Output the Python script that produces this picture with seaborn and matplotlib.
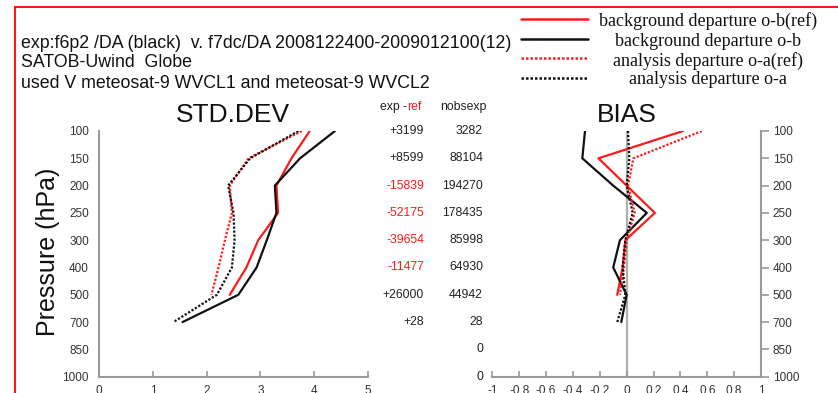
import numpy as np
import pandas as pd
import matplotlib
matplotlib.use("Agg")
import matplotlib.pyplot as plt
from matplotlib.lines import Line2D
from matplotlib.transforms import blended_transform_factory
import seaborn as sns

# ---- data -------------------------------------------------------------
levels = [100, 150, 200, 250, 300, 400, 500, 700, 850, 1000]

# standard deviation of departures (m/s)
std_ob_ref = [3.92, 3.58, 3.30, 3.33, 2.96, 2.74, 2.43]
std_ob = [4.39, 3.74, 3.27, 3.30, 3.12, 2.93, 2.59, 1.55]
std_oa_ref = [3.77, 2.78, 2.43, 2.47, 2.34, 2.22, 2.09]
std_oa = [3.71, 2.81, 2.40, 2.50, 2.52, 2.47, 2.19, 1.38]

# mean departures (m/s)
bias_ob_ref = [0.42, -0.21, 0.00, 0.21, -0.01, -0.03, -0.07]
bias_ob = [-0.31, -0.33, -0.10, 0.15, -0.05, -0.10, 0.00, -0.04]
bias_oa_ref = [0.56, 0.05, 0.01, 0.06, 0.00, -0.02, -0.05]
bias_oa = [0.01, 0.02, 0.00, 0.045, -0.01, -0.03, -0.01, -0.07]

# observation counts
exp_minus_ref = ["+3199", "+8599", "-15839", "-52175", "-39654", "-11477", "+26000", "+28"]
nobsexp = ["3282", "88104", "194270", "178435", "85998", "64930", "44942", "28", "0", "0"]

std_ticks = [0, 1, 2, 3, 4, 5]
bias_ticks = [-1, -0.8, -0.6, -0.4, -0.2, 0, 0.2, 0.4, 0.6, 0.8, 1]
bias_ticklabels = ["-1", "-0.8", "-0.6", "-0.4", "-0.2", "0", "0.2", "0.4", "0.6", "0.8", "1"]

series_names = ["background departure o-b(ref)", "background departure o-b",
                "analysis departure o-a(ref)", "analysis departure o-a"]

# ---- style ------------------------------------------------------------
sns.set_theme(style="white")
plt.rcParams["font.family"] = ["Liberation Sans", "DejaVu Sans"]

W, H = 838, 393
fig = plt.figure(figsize=(W / 100, H / 100), dpi=100)
fig.patch.set_facecolor("white")


def fx(x):
    return x / W


def fy(y):
    return 1 - y / H


AX_BOTTOM, AX_TOP = 376.7, 131.0
ax_std = fig.add_axes([fx(99.3), fy(AX_BOTTOM), (367.7 - 99.3) / W, (AX_BOTTOM - AX_TOP) / H])
ax_bias = fig.add_axes([fx(492.3), fy(AX_BOTTOM), (761.0 - 492.3) / W, (AX_BOTTOM - AX_TOP) / H])

spine_col = "#9a9a9a"
tick_text = "#333333"
RED = "#ff1a1a"
BLACK = "#111111"
styles = [
    (RED, "-"),
    (BLACK, "-"),
    (RED, (0, (1, 0.8))),
    (BLACK, (0, (1, 0.8))),
]


def draw_profiles(ax, series):
    for (vals, (col, ls)) in zip(series, styles):
        df = pd.DataFrame({"value": vals, "lev": np.arange(len(vals))})
        sns.lineplot(data=df, x="value", y="lev", sort=False, orient="y",
                     estimator=None, color=col, linestyle=ls, lw=1.6, ax=ax)


# zero line for bias panel
ax_bias.axvline(0, color="#b0b0b0", lw=1.6, zorder=0)

draw_profiles(ax_std, [std_ob_ref, std_ob, std_oa_ref, std_oa])
draw_profiles(ax_bias, [bias_ob_ref, bias_ob, bias_oa_ref, bias_oa])

for ax in (ax_std, ax_bias):
    ax.set_ylim(len(levels) - 1, 0)
    ax.set_yticks(range(len(levels)))
    ax.set_yticklabels([str(l) for l in levels])
    ax.set_xlabel("")
    ax.set_ylabel("")
    ax.set_facecolor("none")
    for s in ax.spines.values():
        s.set_color(spine_col)
        s.set_linewidth(1.5)
    ax.spines["top"].set_visible(False)
    ax.tick_params(axis="x", direction="in", length=4.5, width=1.2, color=spine_col,
                   labelsize=8.5, labelcolor=tick_text, pad=6, bottom=True)
    ax.tick_params(axis="y", direction="out", length=6, width=1.2, color=spine_col,
                   labelsize=8.5, labelcolor=tick_text, pad=1.5)

ax_std.set_xlim(0, 5)
ax_std.set_xticks(std_ticks)
ax_std.set_xticklabels([str(t) for t in std_ticks])
ax_std.spines["right"].set_visible(False)

ax_bias.set_xlim(-1, 1)
ax_bias.set_xticks(bias_ticks)
ax_bias.set_xticklabels(bias_ticklabels)
ax_bias.spines["left"].set_visible(False)
ax_bias.yaxis.tick_right()
ax_bias.tick_params(axis="y", left=False, right=True, pad=2.5)

# panel titles
fig.text(fx(233), fy(115), "STD.DEV", fontsize=19, ha="center", va="center", color="#111111")
fig.text(fx(627), fy(115), "BIAS", fontsize=19, ha="center", va="center", color="#111111")
fig.text(fx(48), fy(252), "Pressure (hPa)", fontsize=18, rotation=90,
         ha="center", va="center", color="#111111")

# header text
header = ["exp:f6p2 /DA (black)  v. f7dc/DA 2008122400-2009012100(12)",
          "SATOB-Uwind  Globe",
          "used V meteosat-9 WVCL1 and meteosat-9 WVCL2"]
for txt, y in zip(header, [43, 62.5, 83]):
    fig.text(fx(21), fy(y), txt, fontsize=12.8, ha="left", va="center", color="#111111")

# count columns
tr = blended_transform_factory(fig.transFigure, ax_std.transData)
for i, val in enumerate(exp_minus_ref):
    col = RED if val.startswith("-") else "#222222"
    ax_std.text(fx(424), i, val, transform=tr, fontsize=8.8, ha="right", va="center",
                color=col, clip_on=False)
for i, val in enumerate(nobsexp):
    ax_std.text(fx(483), i, val, transform=tr, fontsize=8.8, ha="right", va="center",
                color="#222222", clip_on=False)
fig.text(fx(407), fy(107), "exp -", fontsize=8.8, ha="right", va="center", color="#222222")
fig.text(fx(407.5), fy(107), "ref", fontsize=8.8, ha="left", va="center", color=RED)
fig.text(fx(487), fy(107), "nobsexp", fontsize=8.8, ha="right", va="center", color="#222222")

# legend
for (col, ls), name, yl, yt in zip(styles, series_names,
                                   [19.3, 39.3, 58.3, 77.7], [21.5, 41.5, 61, 80]):
    fig.add_artist(Line2D([fx(521), fx(588)], [fy(yl), fy(yl)], color=col,
                          linestyle=ls, lw=1.8, transform=fig.transFigure))
    fig.text(fx(708), fy(yt), name, fontsize=13, ha="center", va="center",
             family=["Liberation Serif", "DejaVu Serif"], color="#111111")

# page frame
fig.add_artist(Line2D([fx(15), fx(W)], [fy(7), fy(7)], color="#ff0000", lw=1.3,
                      transform=fig.transFigure))
fig.add_artist(Line2D([fx(15), fx(15)], [fy(7), fy(H)], color="#ff0000", lw=1.3,
                      transform=fig.transFigure))

fig.savefig("out.png", dpi=100, facecolor="white")
